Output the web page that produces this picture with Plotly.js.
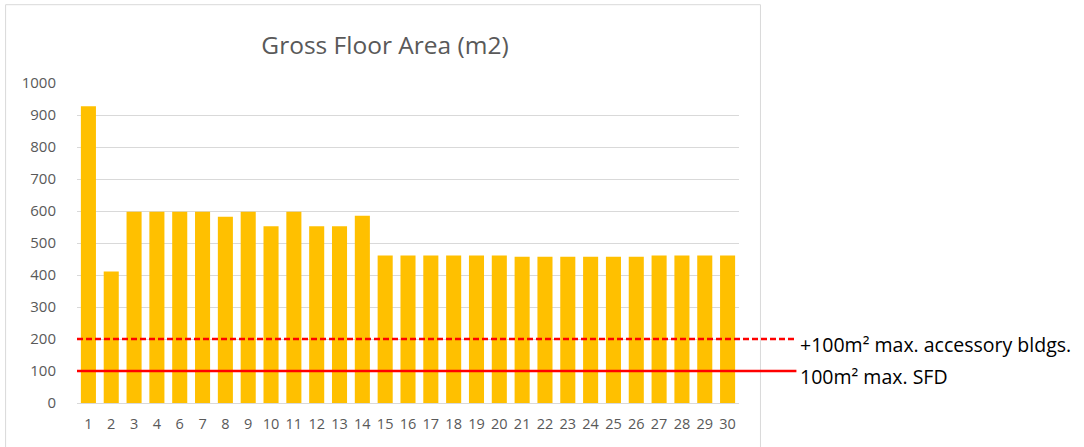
<!DOCTYPE html>
<html><head><meta charset="utf-8">
<script src="https://cdn.plot.ly/plotly-3.0.1.min.js"></script>
<style>html,body{margin:0;padding:0;background:#fff;}#c{width:1084px;height:447px;}</style>
</head><body><div id="c"></div>
<script>
var categories = ["1","2","3","4","6","7","8","9","10","11","12","13","14","15","16","17","18","19","20","21","22","23","24","25","26","27","28","29","30"];
var gfa = [927,411,598,598,598,598,582,598,552,598,552,552,585,461,461,461,461,461,461,457,457,457,457,457,457,461,461,461,461];
var limitValues = [200,100];
var limitLabels = ["+100m\u00B2 max. accessory bldgs.","100m\u00B2 max. SFD"];
var limitDash = ["6px,3px","solid"];

var L=76.5, R=739.5, T=83.3, B=403.3, W=1084, H=447;
var pw=R-L, ph=B-T;
function px2paperX(x){return (x-L)/pw;}
function px2paperY(y){return (B-y)/ph;}
var FONT="Open Sans, Liberation Sans, Arial";

var shapes=[{type:"rect",xref:"paper",yref:"paper",x0:px2paperX(5),x1:px2paperX(761),y0:px2paperY(452),y1:px2paperY(5),line:{color:"#D9D9D9",width:1},fillcolor:"rgba(0,0,0,0)",layer:"below"}];
var annotations=[];
limitValues.forEach(function(v,i){
  shapes.push({type:"line",xref:"paper",yref:"y",x0:0,x1:px2paperX(797),y0:v,y1:v,line:{color:"#FF0000",width:2.5,dash:limitDash[i]}});
  annotations.push({xref:"paper",yref:"y",x:px2paperX(799),y:v,yshift:-5,xanchor:"left",yanchor:"middle",showarrow:false,text:limitLabels[i],font:{family:FONT,size:19.5,color:"#000"}});
});

var data=[{type:"bar",x:categories,y:gfa,marker:{color:"#FFC000"},hoverinfo:"x+y"}];
var layout={
  width:W,height:H,
  margin:{l:L,r:W-R,t:T,b:H-B,pad:0},
  paper_bgcolor:"#fff",plot_bgcolor:"#fff",
  showlegend:false,
  bargap:0.34,
  title:{text:"Gross Floor Area (m2)",x:385/W,xanchor:"center",y:1-45/H,yanchor:"middle",yref:"container",xref:"container",font:{family:FONT,size:24.5,color:"#595959"}},
  xaxis:{type:"category",showgrid:false,zeroline:false,showline:false,ticks:"outside",ticklen:8,tickcolor:"rgba(0,0,0,0)",tickfont:{family:FONT,size:14.5,color:"#595959"},fixedrange:true},
  yaxis:{range:[0,1000],dtick:100,tick0:0,showgrid:true,gridcolor:"#D9D9D9",gridwidth:1,zeroline:true,zerolinecolor:"#D9D9D9",zerolinewidth:1,showline:false,ticks:"outside",ticklen:17,tickcolor:"rgba(0,0,0,0)",tickfont:{family:FONT,size:15,color:"#595959"},fixedrange:true},
  shapes:shapes,annotations:annotations
};
Plotly.newPlot("c",data,layout,{displayModeBar:false,staticPlot:true});
</script></body></html>
